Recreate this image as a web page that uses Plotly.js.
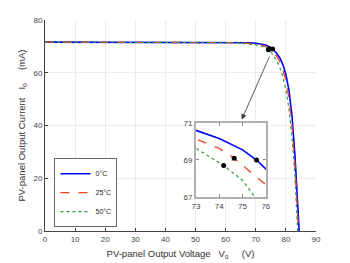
<!DOCTYPE html>
<html><head><meta charset="utf-8">
<script src="https://cdn.plot.ly/plotly-3.0.1.min.js"></script>
<style>html,body{margin:0;padding:0;background:#fff}#chart{width:350px;height:263px}</style>
</head><body><div id="chart"></div>
<script>
const seriesNames = ['0°C', '25°C', '50°C'];
const V0  = [0,10,20,30,40,50,60,65,68,70,72,73,74,75,75.6,76,77,78,79,80,81,82,83,84,84.4];
const I0  = [71.6,71.6,71.6,71.6,71.6,71.6,71.6,71.5,71.35,71.2,70.9,70.6,70.16,69.55,69.0,68.55,67.3,65.6,63.1,59.4,53.5,44,29,8.5,0];
const V25 = [0,10,20,30,40,50,60,65,68,70,72,73,74,74.64,75,76,77,78,79,80,81,82,83,84,84.2];
const I25 = [71.6,71.6,71.6,71.6,71.6,71.6,71.6,71.4,71.1,70.85,70.5,70.13,69.63,69.1,68.72,67.66,66.2,64.2,61.3,57,50.5,40.5,25,4,0];
const V50 = [0,10,20,30,40,50,60,65,68,70,72,73,74,74.19,75,75.57,76,77,78,79,80,81,82,83,83.9];
const I50 = [71.6,71.6,71.6,71.6,71.6,71.6,71.5,71.25,70.9,70.55,70.05,69.63,68.88,68.7,67.9,67.0,66.3,64.5,62,58.5,53.5,46.5,36,21,0];
const markV = [75.6, 74.64, 74.19];
const markI = [69.0, 69.1, 68.7];
const xTicks = [0,10,20,30,40,50,60,70,80,90];
const yTicks = [0,20,40,60,80];
const insetXTicks = [73,74,75,76];
const insetYTicks = [67,69,71];

const styles = [
  {color:'#0000ff', width:1.6, dash:'solid'},
  {color:'#f2401c', width:1.3, dash:'dash'},
  {color:'#2e9a3c', width:1.2, dash:'dot'}
];
const Vs = [V0, V25, V50], Is = [I0, I25, I50];
const traces = [];
for (let k = 0; k < 3; k++) {
  traces.push({x: Vs[k], y: Is[k], name: seriesNames[k], mode:'lines', line: styles[k], xaxis:'x', yaxis:'y'});
}
traces.push({x: markV, y: markI, mode:'markers', marker:{color:'#000', size:5}, showlegend:false, xaxis:'x', yaxis:'y'});
for (let k = 0; k < 3; k++) {
  traces.push({x: Vs[k], y: Is[k], mode:'lines', line: styles[k], showlegend:false, xaxis:'x2', yaxis:'y2'});
}
traces.push({x: markV, y: markI, mode:'markers', marker:{color:'#000', size:5}, showlegend:false, xaxis:'x2', yaxis:'y2'});

const nb = '\u00a0';
const font = {family:'Liberation Sans, Arial, sans-serif', size:8, color:'#333'};
const layout = {
  width:350, height:263,
  margin:{l:45, r:34, t:20, b:32},
  paper_bgcolor:'#fff', plot_bgcolor:'#fff',
  font: font,
  showlegend:true,
  legend:{x:0.035, y:0.018, xanchor:'left', yanchor:'bottom', bgcolor:'#fff', bordercolor:'#666', borderwidth:1,
          itemwidth:30, tracegroupgap:0,
          font:{family:'Liberation Sans, Arial, sans-serif', size:7, color:'#222'}},
  xaxis:{domain:[0,1], range:[0,90], tickvals:xTicks, ticks:'inside', ticklen:3, tickcolor:'#444',
         showline:true, linecolor:'#444', linewidth:1, showgrid:true, gridcolor:'#ebebeb', zeroline:false,
         tickfont:{size:8, color:'#444'},
         title:{text:'PV-panel Output Voltage'+nb+nb+nb+'V<sub>o</sub>'+nb+nb+nb+nb+nb+'(V)', standoff:7,
                font:{family:'Liberation Sans, Arial, sans-serif', size:9.5, color:'#333'}}},
  yaxis:{domain:[0,1], range:[0,80], tickvals:yTicks, ticks:'inside', ticklen:3, tickcolor:'#444',
         showline:true, linecolor:'#444', linewidth:1, showgrid:true, gridcolor:'#ebebeb', zeroline:false,
         tickfont:{size:8, color:'#444'},
         title:{text:'PV-panel Output Current'+nb+nb+nb+'I<sub>o</sub>'+nb+nb+nb+nb+nb+'(mA)', standoff:6,
                font:{family:'Liberation Sans, Arial, sans-serif', size:9.5, color:'#333'}}},
  xaxis2:{domain:[0.557,0.815], anchor:'y2', range:[73,76], tickvals:insetXTicks, ticks:'inside', ticklen:3,
          tickcolor:'#888', showline:true, mirror:'ticks', linecolor:'#b0b0b0', linewidth:2, showgrid:false, zeroline:false,
          tickfont:{size:8, color:'#444'}},
  yaxis2:{domain:[0.161,0.512], anchor:'x2', range:[67,71], tickvals:insetYTicks, ticks:'inside', ticklen:3,
          tickcolor:'#888', showline:true, mirror:'ticks', linecolor:'#b0b0b0', linewidth:2, showgrid:false, zeroline:false,
          tickfont:{size:8, color:'#444'}},
  annotations:[{x:65.35, y:42.3, xref:'x', yref:'y', ax:74.75, ay:66.7, axref:'x', ayref:'y', text:'',
                showarrow:true, arrowhead:2, arrowsize:1.3, arrowwidth:0.8, arrowcolor:'#333'}]
};
Plotly.newPlot('chart', traces, layout, {staticPlot:true, displayModeBar:false});
</script></body></html>
